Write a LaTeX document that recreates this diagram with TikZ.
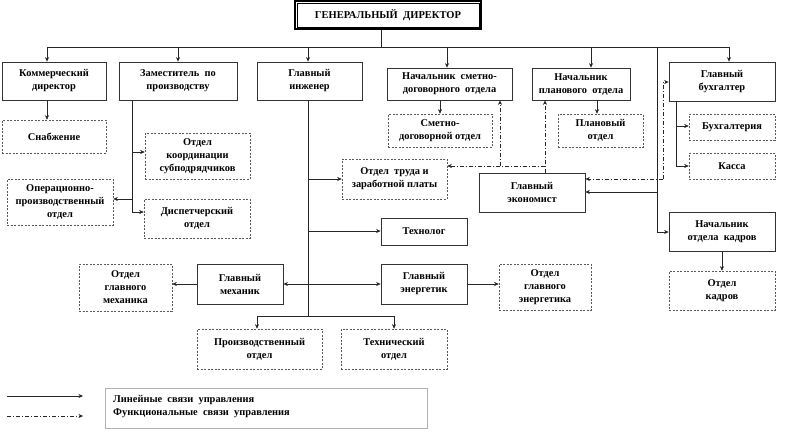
\documentclass[tikz,border=0pt]{standalone}
\usepackage{fontspec}
\setmainfont{Liberation Serif}
\usetikzlibrary{arrows.meta}
\begin{document}
\begin{tikzpicture}[x=1pt,y=-1pt,
  txt/.style={font=\bfseries\fontsize{10.4}{13}\selectfont, align=center, inner sep=0pt},
  mgr/.style={txt, draw=black!80, line width=0.8pt, fill=white},
  dept/.style={txt, draw=black!65, line width=0.6pt, dash pattern=on 2pt off 1.5pt, fill=white},
  ln/.style={draw=black!85, line width=0.55pt},
  arr/.style={ln, -{Stealth[length=4.5pt,width=4pt]}},
  arrb/.style={ln, {Stealth[length=4.5pt,width=4pt]}-{Stealth[length=4.5pt,width=4pt]}},
  fun/.style={dash pattern=on 4pt off 2pt on 1pt off 2pt}
]
\useasboundingbox (0,0) rectangle (800,445);
\fill[white] (0,0) rectangle (800,445);

% General director
\node[txt, draw=black, line width=2pt,
      minimum width=186, minimum height=28, font=\bfseries\fontsize{10.5}{12}\selectfont] (gd) at (388,15) {ГЕНЕРАЛЬНЫЙ\ \ ДИРЕКТОР};
\draw[line width=0.6pt] ([shift={(3,3)}]gd.north west) rectangle ([shift={(-3,-3)}]gd.south east);

% top level
\node[mgr, minimum width=104, minimum height=38] (cd)   at (54,81)    {Коммерческий\\директор};
\node[mgr, minimum width=118, minimum height=38] (zam)  at (178,81)   {Заместитель\ \ по\\производству};
\node[mgr, minimum width=105, minimum height=38] (eng)  at (309.5,81) {Главный\\инженер};
\node[mgr, minimum width=125, minimum height=32] (nsdo) at (449.5,84) {Начальник\ \ сметно-\\договорного\ \ отдела};
\node[mgr, minimum width=98,  minimum height=32] (npo)  at (581,84)   {Начальник\\планового\ \ отдела};
\node[mgr, minimum width=106, minimum height=39] (buh)  at (722,81.5) {Главный\\бухгалтер};

% departments / second level
\node[dept, minimum width=104, minimum height=33] (snab) at (54,136.5)  {Снабжение};
\node[dept, minimum width=105, minimum height=46] (oks)  at (197.5,156) {Отдел\\координации\\субподрядчиков};
\node[dept, minimum width=106, minimum height=46] (opr)  at (60,202)    {Операционно-\\производственный\\отдел};
\node[dept, minimum width=106, minimum height=39] (disp) at (197,218.5) {Диспетчерский\\отдел};
\node[dept, minimum width=104, minimum height=33] (sdo)  at (440,130.5) {Сметно-\\договорной отдел};
\node[dept, minimum width=85,  minimum height=33] (po)   at (600.5,130.5) {Плановый\\отдел};
\node[dept, minimum width=86,  minimum height=26] (bk)   at (732,127)   {Бухгалтерия};
\node[dept, minimum width=86,  minimum height=26] (kas)  at (732,166)   {Касса};
\node[dept, minimum width=105, minimum height=40] (otz)  at (394.5,179) {Отдел\ \ труда и\\заработной платы};
\node[mgr,  minimum width=106, minimum height=39] (econ) at (532,192.5) {Главный\\экономист};
\node[mgr,  minimum width=86,  minimum height=27] (tech) at (424,231.5) {Технолог};
\node[mgr,  minimum width=106, minimum height=39] (nok)  at (722,231.5) {Начальник\\отдела\ \ кадров};
\node[dept, minimum width=106, minimum height=39] (ok)   at (722,290.5) {Отдел\\кадров};
\node[dept, minimum width=93,  minimum height=47] (ogm)  at (125.5,287.5) {Отдел\\главного\\механика};
\node[mgr,  minimum width=86,  minimum height=40] (mech) at (240,284)   {Главный\\механик};
\node[mgr,  minimum width=86,  minimum height=40] (ener) at (424,284)   {Главный\\энергетик};
\node[dept, minimum width=92,  minimum height=46] (oge)  at (545,287)   {Отдел\\главного\\энергетика};
\node[dept, minimum width=125, minimum height=40] (prod) at (259.5,349) {Производственный\\отдел};
\node[dept, minimum width=106, minimum height=40] (teo)  at (394,349)   {Технический\\отдел};

% bus from GD
\coordinate (gdb) at (381,47);
\draw[ln] (gd.south -| gdb) -- (gdb);
\coordinate (b1) at (47,47);
\coordinate (b2) at (178,47);
\coordinate (b3) at (308,47);
\coordinate (b4) at (447,47);
\coordinate (b5) at (591,47);
\coordinate (b6) at (729,47);
\draw[ln] (b1) -- (b6);
\draw[arr] (b1) -- (b1 |- cd.north);
\draw[arr] (b2) -- (b2 |- zam.north);
\draw[arr] (b3) -- (b3 |- eng.north);
\draw[arr] (b4) -- (b4 |- nsdo.north);
\draw[arr] (b5) -- (b5 |- npo.north);
\draw[arr] (b6) -- (b6 |- buh.north);

% commercial
\draw[arr] (cd.south -| b1) -- (snab.north -| b1);

% deputy
\coordinate (z1) at (132,152);
\coordinate (z2) at (132,212);
\coordinate (z3) at (132,199);
\draw[ln] (zam.south -| z2) -- (z2);
\draw[arr] (z1) -- (z1 -| oks.west);
\draw[arr] (z2) -- (z2 -| disp.west);
\draw[arr] (z3) -- (z3 -| opr.east);

% chief engineer
\coordinate (e0) at (308,316);
\coordinate (e1) at (308,179);
\coordinate (e2) at (308,231);
\draw[ln] (eng.south -| e0) -- (e0);
\draw[arr] (e1) -- (e1 -| otz.west);
\draw[arr] (e2) -- (e2 -| tech.west);
\draw[arrb] (mech.east) -- (ener.west);
\draw[arr] (mech.west) -- (mech.west -| ogm.east);
\draw[arr] (ener.east) -- (ener.east -| oge.west);
\coordinate (p1) at (257,316);
\coordinate (p2) at (394,316);
\draw[ln] (p1) -- (p2);
\draw[arr] (p1) -- (p1 |- prod.north);
\draw[arr] (p2) -- (p2 |- teo.north);

% estimate / planning
\draw[arr] (nsdo.south -| sdo.north) -- (sdo.north);
\coordinate (pp) at (597,100);
\draw[arr] (npo.south -| pp) -- (po.north -| pp);

% economist functional links
\coordinate (f1) at (545,166);
\coordinate (f2) at (500,166);
\draw[arr, fun] (econ.north -| f1) -- (f1 |- npo.south);
\draw[arr, fun] (f1) -- (f1 -| otz.east);
\draw[arr, fun] (f2) -- (f2 |- nsdo.south);

% right vertical
\coordinate (r1) at (657,47);
\coordinate (r2) at (657,232);
\coordinate (r3) at (657,192);
\draw[ln] (r1) -- (r2);
\draw[arr] (r2) -- (r2 -| nok.west);
\draw[arr] (r3) -- (r3 -| econ.east);
\coordinate (d1) at (663,82);
\coordinate (d2) at (663,179);
\draw[arr, fun] (d2) -- (d2 -| econ.east);
\draw[arr, fun] (d2) -- (d1) -- (d1 -| buh.west);

% accountant children
\coordinate (k1) at (676,126);
\coordinate (k2) at (676,166);
\draw[ln] (buh.south -| k2) -- (k2);
\draw[arr] (k1) -- (k1 -| bk.west);
\draw[arr] (k2) -- (k2 -| kas.west);
\draw[arr] (nok.south) -- (ok.north);

% legend
\coordinate (l1) at (7,396);
\coordinate (l2) at (83,396);
\coordinate (l3) at (7,416);
\coordinate (l4) at (83,416);
\draw[arr] (l1) -- (l2);
\draw[arr, fun] (l3) -- (l4);
\node[draw=black!30, line width=0.5pt, minimum width=322, minimum height=40, inner sep=0pt] (leg) at (266,408) {};
\node[txt, anchor=west] (t1) at (113,400) {Линейные\ \ связи\ \ управления};
\node[txt, anchor=west] (t2) at (113,413) {Функциональные\ \ связи\ \ управления};
\end{tikzpicture}
\end{document}
